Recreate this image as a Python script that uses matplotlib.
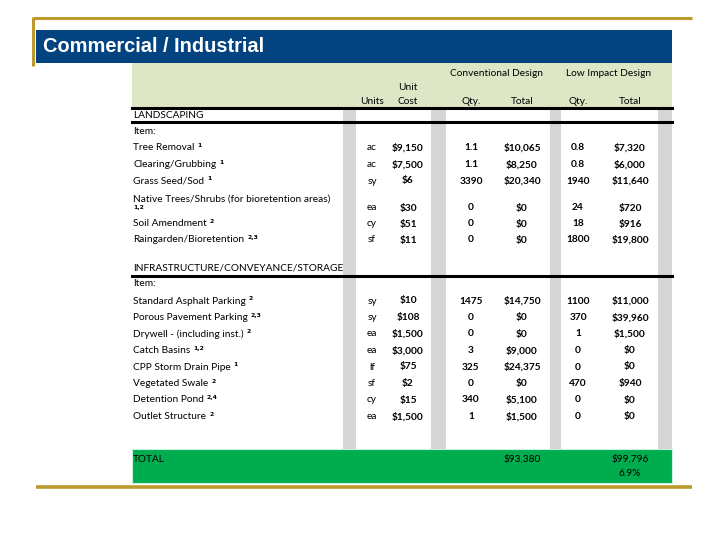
import matplotlib
matplotlib.use("Agg")
import matplotlib.pyplot as plt
from matplotlib.patches import Rectangle

# ---------------- data ----------------
title = "Commercial / Industrial"
land_items = ["Tree Removal", "Clearing/Grubbing", "Grass Seed/Sod",
              "Native Trees/Shrubs (for bioretention areas)", "Soil Amendment",
              "Raingarden/Bioretention"]
land_notes = ["1", "1", "1", "1,2", "2", "2,3"]
land_units = ["ac", "ac", "sy", "ea", "cy", "sf"]
land_unit_cost = [9150, 7500, 6, 30, 51, 11]
land_conv_qty = [1.1, 1.1, 3390, 0, 0, 0]
land_conv_total = [10065, 8250, 20340, 0, 0, 0]
land_lid_qty = [0.8, 0.8, 1940, 24, 18, 1800]
land_lid_total = [7320, 6000, 11640, 720, 916, 19800]

infra_items = ["Standard Asphalt Parking", "Porous Pavement Parking",
               "Drywell - (including inst.)", "Catch Basins", "CPP Storm Drain Pipe",
               "Vegetated Swale", "Detention Pond", "Outlet Structure"]
infra_notes = ["2", "2,3", "2", "1,2", "1", "2", "2,4", "2"]
infra_units = ["sy", "sy", "ea", "ea", "lf", "sf", "cy", "ea"]
infra_unit_cost = [10, 108, 1500, 3000, 75, 2, 15, 1500]
infra_conv_qty = [1475, 0, 0, 3, 325, 0, 340, 1]
infra_conv_total = [14750, 0, 0, 9000, 24375, 0, 5100, 1500]
infra_lid_qty = [1100, 370, 1, 0, 0, 470, 0, 0]
infra_lid_total = [11000, 39960, 1500, 0, 0, 940, 0, 0]

conv_grand_total = 93380
lid_grand_total = 99796
pct_change = "6.9%"

# ---------------- styling ----------------
GOLD = "#bc9a2e"
BLUE = "#03437f"
HEAD_BG = "#dde7c6"
STRIPE = "#d6d6d6"
GREEN = "#00ad4e"
FONT = ["Lato", "DejaVu Sans"]
FS = 7.3
NOTE_FS = 4.4

fig = plt.figure(figsize=(7.2, 5.4), dpi=100)
ax = fig.add_axes([0, 0, 1, 1])
ax.set_xlim(0, 720)
ax.set_ylim(540, 0)
ax.axis("off")
renderer = fig.canvas.get_renderer()

# frame lines
ax.plot([33, 692], [18, 18], color=GOLD, lw=2.2, solid_capstyle="butt")
ax.plot([33, 33], [17, 66], color=GOLD, lw=2.2, solid_capstyle="butt")
ax.plot([36, 692], [487, 487], color=GOLD, lw=2.6, solid_capstyle="butt")

# title bar
ax.add_patch(Rectangle((36, 30), 636, 33, color=BLUE, lw=0))
ax.text(43, 46.5, title, color="white", fontsize=14.4, fontweight="bold",
        family="Liberation Sans", va="center", ha="left")

# table geometry
L, R = 132, 672
stripes = [(343, 356), (431, 446), (550, 561), (658, 672)]
ax.add_patch(Rectangle((L, 63), R - L, 45, color=HEAD_BG, lw=0))
for a, b in stripes:
    ax.add_patch(Rectangle((a, 108), b - a, 341, color=STRIPE, lw=0))
ax.add_patch(Rectangle((L, 449), R - L, 34, facecolor=GREEN, edgecolor="#c8f0dc", lw=0.8))

ax.plot([L, R], [108, 108], color="black", lw=2.2)
ax.plot([L, R], [122, 122], color="black", lw=2.2)
ax.plot([L, R], [275.5, 275.5], color="black", lw=2.2)

x_units, x_cost, x_cq, x_ct, x_lq, x_lt = 372, 408, 471, 522, 578, 630

def txt(x, y, s, ha="center", weight="normal", size=FS, family=None):
    return ax.text(x, y, s, ha=ha, va="center", fontsize=size,
                   family=family or FONT, fontweight=weight, color="black")

def note(x, y, s):
    return txt(x, y, s, ha="left", size=NOTE_FS, weight="bold", family="DejaVu Sans")

# header
txt(497, 74, "Conventional Design")
txt(609, 74, "Low Impact Design")
txt(x_cost, 88, "Unit")
txt(x_units, 102, "Units")
txt(x_cost, 102, "Cost")
txt(x_cq, 102, "Qty.")
txt(x_ct, 102, "Total")
txt(x_lq, 102, "Qty.")
txt(x_lt, 102, "Total")

def money(v):
    return f"${v:,.0f}"

def qty(v):
    return f"{v:g}"

def section(title_s, y_title, y_item, y_rows, items, notes, units, cost, cq, ct, lq, lt):
    txt(L + 1, y_title, title_s, ha="left")
    txt(L + 1, y_item, "Item:", ha="left")
    for i, y in enumerate(y_rows):
        name = items[i]
        if len(name) > 35:
            txt(L + 1, y - 9, name, ha="left")
            note(L + 1, y - 1, notes[i])
        else:
            t = txt(L + 1, y, name, ha="left")
            bb = t.get_window_extent(renderer)
            note(bb.x1 + 3, y - 2.2, notes[i])
        txt(x_units, y, units[i])
        txt(x_cost, y, money(cost[i]), weight="bold")
        txt(x_cq, y, qty(cq[i]), weight="bold")
        txt(x_ct, y, money(ct[i]), weight="bold")
        txt(x_lq, y, qty(lq[i]), weight="bold")
        txt(x_lt, y, money(lt[i]), weight="bold")

land_y = [148, 164.5, 181, 208, 224, 240]
infra_y = [301 + 16.5 * i for i in range(len(infra_items))]

section("LANDSCAPING", 115.5, 132, land_y, land_items, land_notes, land_units,
        land_unit_cost, land_conv_qty, land_conv_total, land_lid_qty, land_lid_total)
section("INFRASTRUCTURE/CONVEYANCE/STORAGE", 268, 284, infra_y, infra_items, infra_notes,
        infra_units, infra_unit_cost, infra_conv_qty, infra_conv_total,
        infra_lid_qty, infra_lid_total)

# total row
txt(L + 1, 459, "TOTAL", ha="left")
txt(x_ct, 459, money(conv_grand_total))
txt(x_lt, 459, money(lid_grand_total))
txt(x_lt, 474, pct_change)

fig.savefig("out.png", dpi=100)
